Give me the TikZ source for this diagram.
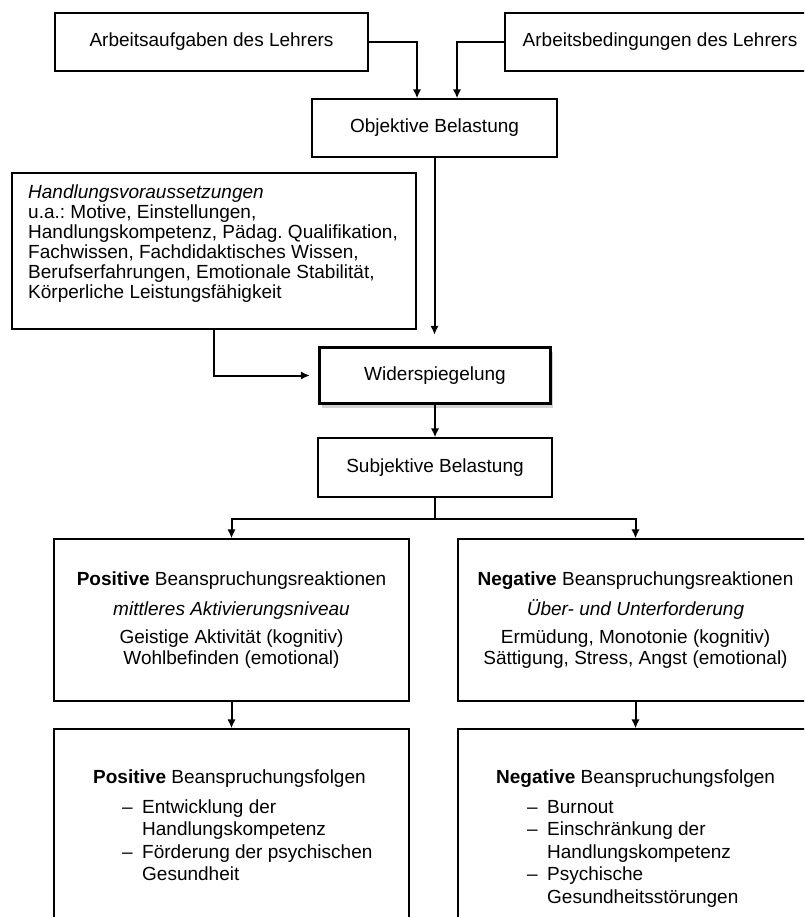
\documentclass[tikz,border=0pt]{standalone}
\usepackage{fontspec}
\setmainfont{Liberation Sans}
\usetikzlibrary{arrows.meta, positioning, shadows}
\frenchspacing

\newcommand{\strich}{\makebox[20pt][l]{--}}
\newcommand{\einzug}{\hspace*{20pt}}

\begin{document}
\begin{tikzpicture}[x=1pt, y=-1pt,
        box/.style={draw, line width=1.4pt, align=center, inner sep=0pt, font=\fontsize{19}{21}\selectfont},
        mainbox/.style={box, line width=3.5pt, fill=white, drop shadow={shadow xshift=2pt, shadow yshift=-4.5pt, opacity=0.35}},
        boxtext/.style={align=left, inner sep=0pt, font=\fontsize{19}{21}\selectfont},
        connector/.style={line width=2pt, -{Latex[length=9pt, width=8.5pt]}}
    ]
        \useasboundingbox (0,0) rectangle (804,917);
        \clip (0,0) rectangle (804,917);

        % Belastung
        \node[box, minimum width=313pt, minimum height=58pt] (arbeits_aufgaben) at (211.5,42) {Arbeitsaufgaben des Lehrers};
        \node[box, minimum width=310pt, minimum height=58pt] (arbeits_bedingungen) at (660,42) {Arbeitsbedingungen des Lehrers};
        \node[box, minimum width=245pt, minimum height=58pt] (objektive_belastung) at (434.5,128) {Objektive Belastung};
        \node[box, minimum width=404pt, minimum height=156pt] (handlungs_voraussetzungen) at (214,251) {};
        \node[boxtext, anchor=north west, font=\fontsize{19}{20}\selectfont] (handlungs_text) at (28,185) {\textit{Handlungsvoraussetzungen}\\
            u.a.: Motive, Einstellungen,\\
            Handlungskompetenz, Pädag. Qualifikation,\\
            Fachwissen, Fachdidaktisches Wissen,\\
            Berufserfahrungen, Emotionale Stabilität,\\
            Körperliche Leistungsfähigkeit};
        \node[mainbox, minimum width=231pt, minimum height=56pt] (widerspiegelung) at (435,375.5) {Widerspiegelung};
        \node[box, minimum width=234pt, minimum height=59pt] (subjektive_belastung) at (435,467.5) {Subjektive Belastung};

        % Beanspruchung
        \node[box, minimum width=355pt, minimum height=162pt] (positive_reaktionen) at (231.5,620) {\textbf{Positive} Beanspruchungsreaktionen\\[9pt]
            \textit{mittleres Aktivierungsniveau}\\[7pt]
            Geistige Aktivität (kognitiv)\\
            Wohlbefinden (emotional)};
        \node[box, minimum width=355pt, minimum height=162pt] (negative_reaktionen) at (635.5,620) {\textbf{Negative} Beanspruchungsreaktionen\\[9pt]
            \textit{Über- und Unterforderung}\\[7pt]
            Ermüdung, Monotonie (kognitiv)\\
            Sättigung, Stress, Angst (emotional)};
        \node[box, minimum width=355pt, minimum height=220pt] (positive_folgen) at (231.5,839) {};
        \node[box, minimum width=355pt, minimum height=220pt] (negative_folgen) at (635.5,839) {};
        \node[boxtext, anchor=north west, font=\fontsize{19}{22.5}\selectfont] (positive_folgen_text) at (93,770) {\textbf{Positive} Beanspruchungsfolgen\\[7pt]
            \hspace*{29pt}\strich Entwicklung der\\
            \hspace*{29pt}\einzug Handlungskompetenz\\
            \hspace*{29pt}\strich Förderung der psychischen\\
            \hspace*{29pt}\einzug Gesundheit};
        \node[boxtext, anchor=north west, font=\fontsize{19}{22.5}\selectfont] (negative_folgen_text) at (496,770) {\textbf{Negative} Beanspruchungsfolgen\\[7pt]
            \hspace*{31pt}\strich Burnout\\
            \hspace*{31pt}\strich Einschränkung der\\
            \hspace*{31pt}\einzug Handlungskompetenz\\
            \hspace*{31pt}\strich Psychische\\
            \hspace*{31pt}\einzug Gesundheitsstörungen};

        % Pfeile
        \draw[connector] (arbeits_aufgaben.east) -| ([xshift=-17.5pt]objektive_belastung.north);
        \draw[connector] (arbeits_bedingungen.west) -| ([xshift=22.5pt]objektive_belastung.north);
        \draw[connector, shorten >=11pt] (objektive_belastung.south) -- (objektive_belastung.south |- widerspiegelung.north);
        \draw[connector, shorten >=8pt] (handlungs_voraussetzungen.south) |- (widerspiegelung.west);
        \draw[connector] (widerspiegelung.south) -- (subjektive_belastung.north);
        \draw[connector] (subjektive_belastung.south) -- ++(0,21) -| (positive_reaktionen.north);
        \draw[connector] (subjektive_belastung.south) -- ++(0,21) -| (negative_reaktionen.north);
        \draw[connector] (positive_reaktionen.south) -- (positive_folgen.north);
        \draw[connector] (negative_reaktionen.south) -- (negative_folgen.north);
    \end{tikzpicture}
\end{document}
